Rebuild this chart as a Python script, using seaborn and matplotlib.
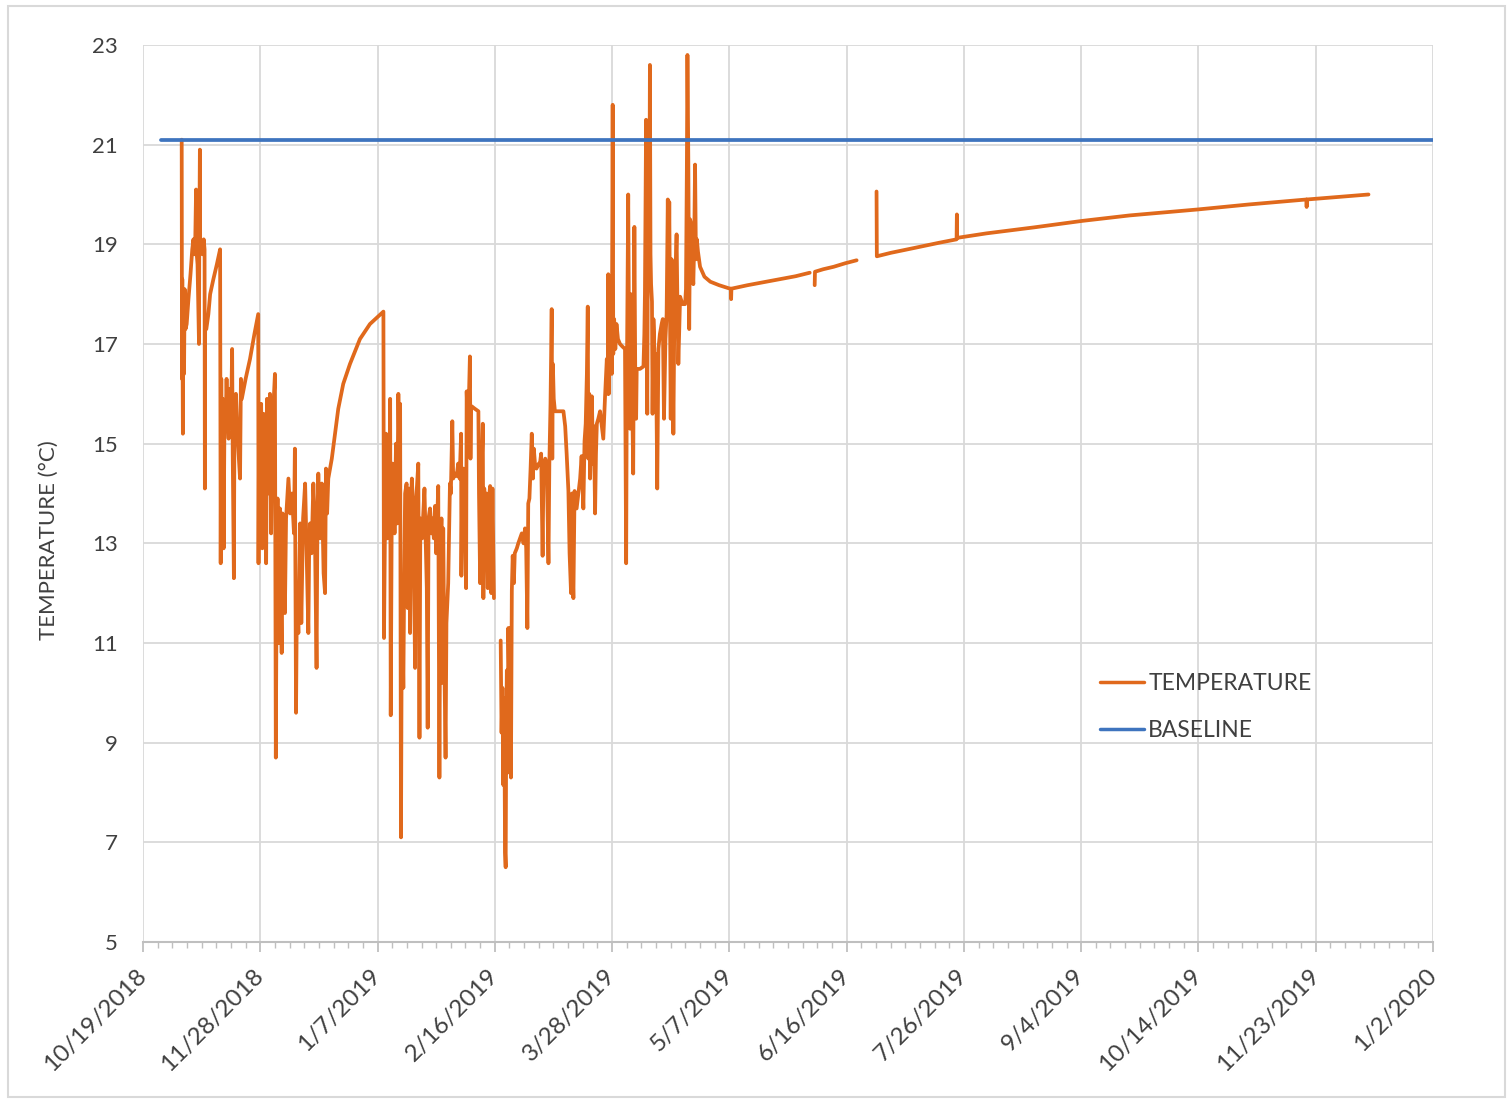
import numpy as np
import pandas as pd
import matplotlib
matplotlib.use("Agg")
import matplotlib.pyplot as plt
import matplotlib.dates as mdates
from matplotlib.ticker import FixedLocator, FixedFormatter
from matplotlib.patches import Rectangle
import seaborn as sns

# ---------------- data ----------------
start_label = "10/19/2018"
x_tick_labels = ["10/19/2018", "11/28/2018", "1/7/2019", "2/16/2019", "3/28/2019",
                 "5/7/2019", "6/16/2019", "7/26/2019", "9/4/2019", "10/14/2019",
                 "11/23/2019", "1/2/2020"]
y_ticks = [5, 7, 9, 11, 13, 15, 17, 19, 21, 23]

baseline_value = 21.1
baseline_days = [6.1, 440.0]          # days since 10/19/2018

# temperature readings: (days since 10/19/2018, deg C); separate logging runs
temp_run_1 = [
    (13.2, 21.1), (13.3, 16.3), (13.4, 18.3), (13.6, 15.2), (13.7, 17.5), (14.0, 16.4), (14.2, 18.1),
    (14.5, 17.3), (14.9, 17.4), (15.5, 17.9), (16.2, 18.4), (16.8, 18.9), (17.2, 19.1), (17.5, 18.8),
    (17.8, 19.0), (18.1, 20.1), (18.2, 18.9), (18.6, 18.6), (19.1, 17.0), (19.2, 19.0), (19.4, 20.9),
    (19.5, 18.9), (19.9, 19.0), (20.3, 18.8), (20.7, 19.1), (21.0, 18.9), (21.1, 14.1), (21.2, 17.3),
    (21.6, 17.3), (22.3, 17.6), (22.9, 18.0), (24.0, 18.3), (25.2, 18.6), (26.3, 18.9), (26.5, 12.6),
    (26.7, 16.3), (26.9, 13.2), (27.2, 15.9), (27.5, 12.9), (27.8, 15.6), (28.2, 15.4), (28.5, 16.3),
    (28.8, 15.5), (29.2, 15.1), (29.6, 16.1), (30.0, 15.4), (30.4, 16.9), (30.6, 14.8), (31.0, 12.3),
    (31.2, 15.6), (31.7, 16.0), (32.2, 15.2), (33.1, 14.3), (33.4, 16.3), (33.7, 15.9), (35.0, 16.3),
    (36.5, 16.7), (38.0, 17.2), (39.3, 17.6),
    (39.4, 12.6), (39.6, 15.5), (39.9, 13.0), (40.3, 15.8), (40.7, 12.9), (41.1, 15.6), (41.5, 14.8),
    (42.0, 12.6), (42.3, 15.9), (42.8, 14.0), (43.3, 16.0), (43.7, 13.2), (44.2, 15.8), (44.6, 15.9),
    (45.0, 16.4), (45.3, 8.7), (45.6, 12.5), (45.9, 13.9), (46.3, 11.0), (46.7, 13.7), (47.3, 10.8),
    (47.6, 13.6), (48.0, 12.3), (48.4, 11.6), (48.8, 13.5), (49.6, 14.3), (50.2, 13.6), (50.8, 14.0),
    (51.5, 13.2), (51.8, 14.9), (52.2, 9.6), (52.5, 12.0), (53.0, 11.2), (53.6, 13.4), (54.0, 11.4),
    (54.6, 13.5), (55.3, 14.2), (55.8, 12.8), (56.4, 11.2), (56.7, 13.0), (57.0, 13.4), (57.5, 12.8),
    (58.1, 14.2), (58.6, 13.4), (59.2, 10.5), (59.5, 13.5), (59.8, 14.4), (60.4, 13.1), (61.0, 14.2),
    (61.6, 12.4), (62.1, 12.0), (62.4, 14.5), (62.8, 13.6), (63.2, 14.3), (64.4, 14.7), (65.5, 15.2),
    (66.6, 15.7), (68.3, 16.2), (70.6, 16.6), (74.0, 17.1), (77.4, 17.4), (82.0, 17.65),
    (82.2, 11.1), (82.5, 13.1), (82.9, 15.2), (83.3, 13.1), (83.7, 15.0), (84.0, 13.4), (84.3, 15.9),
    (84.5, 9.55), (84.8, 13.1), (85.1, 14.6), (85.4, 14.5), (85.8, 13.2), (86.3, 15.0), (86.7, 13.4),
    (87.1, 16.0), (87.4, 14.8), (87.7, 15.8), (88.0, 7.1), (88.3, 12.1), (88.8, 10.1), (89.1, 12.4),
    (89.4, 14.0), (89.9, 14.2), (90.3, 11.7), (90.7, 14.1), (91.1, 11.2), (91.4, 13.8), (91.7, 14.3),
    (92.2, 13.6), (92.8, 10.5), (93.1, 13.8), (93.9, 14.6), (94.3, 9.1), (94.6, 13.5), (95.2, 13.1),
    (95.6, 13.6), (96.0, 14.1), (96.4, 13.1), (96.8, 12.1), (97.1, 9.3), (97.4, 13.5), (97.9, 13.7),
    (98.3, 13.2), (98.7, 13.5), (99.2, 13.1), (99.6, 13.75), (100.0, 12.8), (100.4, 13.6),
    (100.7, 14.15), (101.1, 8.3), (101.4, 12.4), (101.8, 13.5), (102.1, 10.2), (102.4, 13.3),
    (102.8, 10.6), (103.2, 8.7), (103.5, 11.4), (104.1, 12.2), (104.7, 14.2), (105.0, 14.0),
    (105.5, 15.45), (105.8, 14.3), (106.4, 14.4), (107.0, 14.35), (107.5, 14.6), (108.0, 14.3),
    (108.5, 15.2), (108.6, 12.35), (108.9, 14.4), (109.3, 14.5), (109.8, 13.8), (110.2, 12.1),
    (110.4, 16.05), (110.8, 15.3), (111.2, 16.0), (111.5, 16.75), (111.7, 14.7), (111.9, 15.7),
    (112.1, 15.75), (113.2, 15.7), (114.4, 15.65), (114.6, 14.0), (115.0, 12.2), (115.5, 14.4),
    (115.9, 15.4), (116.1, 11.9), (116.4, 14.1), (116.7, 13.3), (117.1, 14.0), (117.6, 12.1),
    (118.0, 13.9), (118.4, 14.15), (118.8, 12.0), (119.2, 14.1), (119.7, 11.9),
]

temp_run_2 = [
    (122.0, 11.05), (122.3, 9.2), (122.6, 10.1), (122.9, 8.15), (123.2, 9.9), (123.5, 6.8),
    (123.7, 6.5), (123.9, 9.3), (124.1, 10.45), (124.4, 8.4), (124.6, 11.3), (124.9, 10.2),
    (125.2, 11.3), (125.5, 8.3), (125.8, 12.05), (126.1, 12.75), (126.5, 12.2), (126.8, 12.8),
    (127.5, 12.9), (128.0, 13.0), (128.6, 13.1), (129.2, 13.2), (129.8, 13.0), (130.3, 13.3),
    (130.7, 12.9), (131.1, 11.3), (131.4, 13.8), (131.8, 13.9), (132.2, 14.5), (132.6, 15.2),
    (133.0, 14.3), (133.3, 14.9), (133.7, 14.6), (134.2, 14.5), (135.0, 14.6), (135.4, 14.6),
    (135.8, 14.8), (136.3, 12.75), (136.6, 14.5), (137.2, 14.7), (137.7, 14.6), (138.3, 12.6),
    (138.6, 14.6), (139.0, 15.8), (139.4, 17.7), (139.6, 14.7), (139.8, 16.6), (140.1, 15.9),
    (140.5, 15.65), (142.0, 15.65), (143.4, 15.65), (144.0, 15.35), (144.5, 14.8), (145.1, 14.05),
    (145.5, 12.8), (146.0, 12.0), (146.3, 14.0), (146.5, 12.6), (146.8, 11.9), (147.2, 14.05),
    (147.9, 13.7), (148.5, 14.0), (149.1, 14.3), (149.6, 14.75), (150.2, 13.7), (150.6, 15.05),
    (151.0, 15.4), (151.4, 16.4), (151.7, 17.75), (151.9, 14.7), (152.2, 16.0), (152.5, 14.3),
    (152.8, 15.1), (153.1, 15.95), (153.5, 14.6), (153.8, 15.35), (154.2, 13.6), (154.5, 14.8),
    (154.8, 15.4), (155.3, 15.5), (155.9, 15.65), (156.4, 15.4), (157.0, 15.1), (157.6, 15.95),
    (158.2, 16.7), (158.5, 16.0), (158.7, 18.4),
    (158.9, 16.0), (159.1, 18.2), (159.4, 16.9), (159.7, 17.4), (159.9, 16.4), (160.2, 21.8),
    (160.4, 16.8), (160.7, 17.5), (161.1, 16.9), (161.5, 17.4), (162.0, 17.1), (162.7, 17.0),
    (163.5, 16.95), (164.4, 16.9), (164.8, 12.6), (165.0, 16.0), (165.5, 20.0), (165.8, 16.8),
    (166.1, 15.3), (166.4, 18.0), (166.8, 16.2), (167.2, 14.4), (167.6, 19.35), (167.9, 16.4),
    (168.2, 15.5), (168.4, 16.5), (169.5, 16.5), (170.7, 16.55), (171.0, 17.2), (171.2, 18.0),
    (171.6, 21.5), (171.8, 17.1), (172.0, 15.6), (172.2, 18.9), (172.4, 21.0), (172.7, 19.0),
    (172.9, 22.6), (173.1, 18.8), (173.3, 18.2), (173.6, 17.85), (173.8, 15.6), (174.1, 17.5),
    (174.3, 17.2), (174.6, 15.7), (175.0, 16.8), (175.4, 14.1), (175.8, 16.9), (176.3, 17.2),
    (176.9, 17.4), (177.3, 17.5), (177.7, 15.5), (178.2, 17.1), (178.6, 17.6), (179.0, 19.9),
    (179.3, 18.1), (179.5, 19.85), (180.0, 15.5), (180.3, 18.7), (180.6, 17.4), (180.9, 15.2),
    (181.2, 17.3), (181.5, 18.2), (182.0, 19.2), (182.3, 17.7), (182.6, 16.6), (183.2, 17.95),
    (184.0, 17.8), (184.9, 17.8), (185.2, 18.1), (185.5, 20.5), (185.7, 22.8), (186.0, 20.7),
    (186.3, 17.3), (186.6, 19.5), (187.0, 19.4), (187.4, 18.6), (187.7, 18.2), (188.0, 19.0),
    (188.3, 20.6), (188.6, 18.7), (188.9, 19.1), (189.3, 18.85), (190.0, 18.55), (191.5, 18.35),
    (193.5, 18.25), (196.5, 18.18), (199.7, 18.12), (200.5, 18.11), (200.6, 17.9), (200.7, 18.11),
    (206.2, 18.18), (214.4, 18.27), (222.6, 18.36), (227.4, 18.43),
]

temp_run_3 = [
    (229.1, 18.18), (229.2, 18.45), (232.0, 18.5), (235.6, 18.55), (239.5, 18.62), (243.4, 18.68),
]

temp_run_4 = [
    (250.2, 20.06), (250.3, 18.76), (255.1, 18.83), (263.3, 18.93), (271.4, 19.03), (277.5, 19.1),
    (277.6, 19.6), (277.7, 19.13), (287.7, 19.22), (303.9, 19.34), (320.3, 19.47), (336.5, 19.58),
    (359.8, 19.7), (377.2, 19.8), (396.8, 19.9), (396.9, 19.75), (397.0, 19.9), (418.0, 20.0),
]

ORANGE = "#E0691C"
BLUE = "#3E74BE"
GRID = "#D9D9D9"
TEXT = "#404040"

# ---------------- frame ----------------
start = pd.to_datetime(start_label, format="%m/%d/%Y")
frames = []
for uid, run in enumerate([temp_run_1, temp_run_2, temp_run_3, temp_run_4]):
    days = np.array([p[0] for p in run])
    vals = np.array([p[1] for p in run])
    frames.append(pd.DataFrame({
        "date": start + pd.to_timedelta(days, unit="D"),
        "value": vals, "series": "TEMPERATURE", "unit": uid}))
frames.append(pd.DataFrame({
    "date": start + pd.to_timedelta(np.array(baseline_days), unit="D"),
    "value": [baseline_value] * len(baseline_days), "series": "BASELINE", "unit": 99}))
df = pd.concat(frames, ignore_index=True)

# ---------------- plot ----------------
sns.set_theme(style="white")
plt.rcParams["font.family"] = ["Lato", "DejaVu Sans"]

fig = plt.figure(figsize=(15.1, 11.01), dpi=100)
ax = fig.add_axes([143 / 1510, 1 - 942 / 1101, 1290 / 1510, 897 / 1101])

sns.lineplot(data=df, x="date", y="value", hue="series", units="unit",
             estimator=None, sort=False, hue_order=["TEMPERATURE", "BASELINE"],
             palette={"TEMPERATURE": ORANGE, "BASELINE": BLUE},
             linewidth=2.7, ax=ax)

tick_dates = pd.to_datetime(x_tick_labels, format="%m/%d/%Y")
ax.set_xlim(mdates.date2num(tick_dates[0]), mdates.date2num(tick_dates[-1]))
ax.xaxis.set_major_locator(FixedLocator(mdates.date2num(tick_dates)))
ax.xaxis.set_major_formatter(FixedFormatter(x_tick_labels))
minor_dates = pd.date_range(tick_dates[0], tick_dates[-1], freq="5D")
ax.xaxis.set_minor_locator(FixedLocator(mdates.date2num(minor_dates)))

ax.set_ylim(5, 23)
ax.set_yticks(y_ticks)
ax.set_yticklabels([str(v) for v in y_ticks])

ax.grid(True, which="major", color=GRID, linewidth=1.3)
ax.set_axisbelow(True)
for s in ["top", "right", "left"]:
    ax.spines[s].set_visible(False)
ax.spines["bottom"].set_color("#BFBFBF")
ax.spines["bottom"].set_linewidth(1.5)

ax.tick_params(axis="x", which="major", length=7, width=1.3, color="#BFBFBF",
               direction="out", labelsize=17.5, labelcolor=TEXT, pad=15, bottom=True)
ax.tick_params(axis="x", which="minor", length=4.5, width=1.0, color="#BFBFBF",
               direction="out", bottom=True)
ax.tick_params(axis="y", length=0, pad=18, labelsize=16, labelcolor=TEXT)
for lbl in ax.get_xticklabels():
    lbl.set_rotation(45)
    lbl.set_ha("right")
    lbl.set_va("center")
    lbl.set_rotation_mode("anchor")

ax.set_xlabel("")
ax.set_ylabel("TEMPERATURE (°C)", fontsize=16, color=TEXT)
ax.yaxis.set_label_coords(-0.065, 0.448)

old = ax.get_legend()
handles = old.legend_handles
labels = [t.get_text() for t in old.get_texts()]
for h in handles:
    h.set_linewidth(2.5)
ax.legend(handles, labels, loc="upper left", bbox_to_anchor=(0.742, 0.30),
          frameon=False, fontsize=16.5, handlelength=1.9, handletextpad=0.2,
          labelspacing=1.15, borderpad=0, borderaxespad=0, labelcolor=TEXT)

fig.add_artist(Rectangle((0.005, 0.004), 0.992, 0.991, transform=fig.transFigure,
                         fill=False, edgecolor=GRID, linewidth=1.5))

fig.savefig("out.png", dpi=100)
